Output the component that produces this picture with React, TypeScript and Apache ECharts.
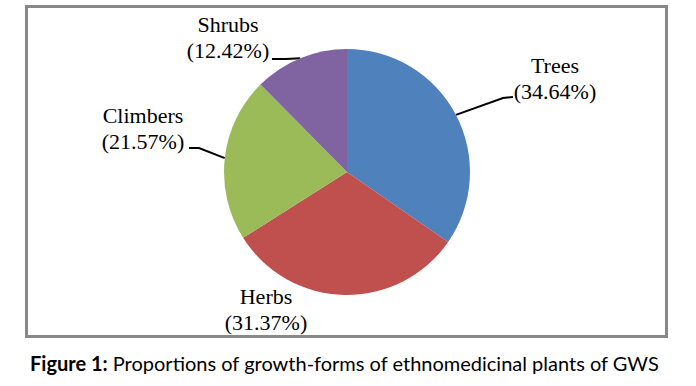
import React, { useEffect, useRef } from "react";
import * as echarts from "echarts";

const categories = ["Trees", "Herbs", "Climbers", "Shrubs"];
const percentages = [34.64, 31.37, 21.57, 12.42];
const colors = ["#4F81BD", "#C0504D", "#9BBB59", "#8064A2"];
const captionBold = "Figure 1:";
const captionText = " Proportions of growth-forms of ethnomedicinal plants of GWS";

// label anchor (centre of label block) and leader-line bend/end points
const labelAnchors: [number, number][] = [
  [555, 78],
  [266, 309],
  [143, 128],
  [228, 37],
];
const leaderBends: ([number, number][] | null)[] = [
  [[503, 98], [513, 97]],
  null,
  [[199, 148], [189, 148]],
  [[286, 59], [272, 59]],
];

export default function App() {
  const ref = useRef<HTMLDivElement>(null);
  useEffect(() => {
    if (!ref.current) return;
    const chart = echarts.init(ref.current, undefined, { renderer: "svg" });
    chart.setOption({
      animation: false,
      backgroundColor: "#ffffff",
      graphic: [
        {
          type: "rect",
          shape: { x: 26.5, y: 6.5, width: 640, height: 330 },
          style: { fill: "none", stroke: "#888888", lineWidth: 3 },
          silent: true,
        },
        {
          type: "text",
          left: 30,
          top: 353,
          style: {
            text: "{b|" + captionBold + "}{r|" + captionText + "}",
            rich: {
              b: { fontFamily: "Lato", fontWeight: "bold", fontSize: 20, fill: "#000" },
              r: { fontFamily: "Lato", fontSize: 20, fill: "#000" },
            },
          },
        },
      ],
      series: [
        {
          type: "pie",
          center: [347, 172],
          radius: 123,
          startAngle: 90,
          clockwise: true,
          data: categories.map((c, i) => ({
            name: c,
            value: percentages[i],
            itemStyle: { color: colors[i] },
            labelLine: { show: leaderBends[i] !== null },
          })),
          label: {
            show: true,
            position: "outside",
            formatter: (p: any) => p.name + "\n(" + p.value.toFixed(2) + "%)",
            fontFamily: "Liberation Serif",
            fontSize: 22,
            lineHeight: 26,
            color: "#000",
            align: "center",
          },
          labelLine: {
            show: true,
            lineStyle: { color: "#000", width: 2 },
          },
          labelLayout: (params: any) => {
            const i = params.dataIndex;
            const [x, y] = labelAnchors[i];
            const res: any = { x, y, align: "center", verticalAlign: "middle" };
            const bends = leaderBends[i];
            if (bends && params.labelLinePoints) {
              res.labelLinePoints = [params.labelLinePoints[0], ...bends];
            }
            return res;
          },
          emphasis: { disabled: true },
        },
      ],
    });
    return () => chart.dispose();
  }, []);
  return (
    <div
      ref={ref}
      style={{ position: "absolute", left: 0, top: 0, width: 696, height: 386 }}
    />
  );
}
